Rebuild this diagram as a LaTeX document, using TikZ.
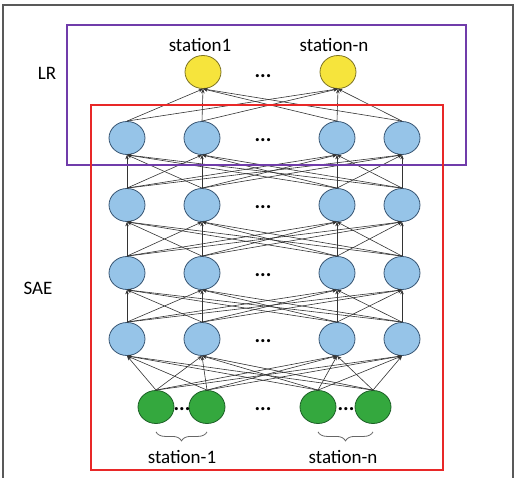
\documentclass[tikz,border=0pt]{standalone}
\usepackage{fontspec}
\setmainfont{Carlito}
\usetikzlibrary{shapes.geometric, arrows.meta, positioning, decorations.pathreplacing}

\definecolor{hidblue}{RGB}{150,196,232}
\definecolor{hidedge}{RGB}{55,85,115}
\definecolor{outyellow}{RGB}{246,228,60}
\definecolor{outedge}{RGB}{125,115,35}
\definecolor{ingreen}{RGB}{52,168,62}
\definecolor{inedge}{RGB}{28,95,38}
\definecolor{lrpurple}{RGB}{112,60,170}
\definecolor{saered}{RGB}{232,40,40}

\begin{document}
\begin{tikzpicture}[
    x=1pt, y=-1pt,
    font=\fontsize{19}{22}\selectfont,
    unit/.style={ellipse, thick, minimum width=36pt, minimum height=33pt, inner sep=0pt},
    hid/.style={unit, fill=hidblue, draw=hidedge},
    outunit/.style={unit, fill=outyellow, draw=outedge},
    inunit/.style={unit, fill=ingreen, draw=inedge},
    dots/.style={font=\bfseries\fontsize{21}{21}\selectfont, inner sep=0pt},
    arrow/.style={-{Stealth[length=4.5pt, width=3.5pt]}, draw=black!80, line width=0.6pt},
    brace/.style={decorate, decoration={brace, mirror, amplitude=9pt}, draw=black!60, thick}
]
\useasboundingbox (0,0) rectangle (517,478);

% outer frame
\draw[black!65, line width=1.6pt] (3,482) -- (3,5) -- (513,5) -- (513,482);

% output layer
\node[outunit] (y1) at (203,72) {};
\node[outunit] (y2) at (338,72) {};
\node[dots] (dy) at (263,76) {...};
\node (s1) at (200,45) {station1};
\node (sn) at (334,45) {station-n};

% hidden layers
\foreach \r/\y in {1/138, 2/205, 3/273, 4/339} {
    \foreach \c/\x in {1/127, 2/202, 3/337, 4/402}
        \node[hid] (h\r\c) at (\x,\y) {};
    \node[dots] (dh\r) at (263,\y+2) {...};
}

% input layer
\node[inunit] (g1) at (156,407) {};
\node[inunit] (g2) at (207,407) {};
\node[inunit] (g3) at (318,407) {};
\node[inunit] (g4) at (373,407) {};
\node[dots] (dg1) at (182,409) {...};
\node[dots] (dg) at (263,409) {...};
\node[dots] (dg2) at (346,409) {...};

% connections
\foreach \a in {1,...,4} {
    \foreach \b in {1,2}
        \draw[arrow] (h1\a.north) -- (y\b.south);
    \foreach \b in {1,...,4} {
        \draw[arrow] (g\a.north) -- (h4\b.south);
        \foreach \lo/\hi in {2/1, 3/2, 4/3}
            \draw[arrow] (h\lo\a.north) -- (h\hi\b.south);
    }
}

% braces
\draw[brace] ([yshift=-8pt]g1.south) -- ([yshift=-8pt]g2.south);
\draw[brace] ([yshift=-8pt]g3.south) -- ([yshift=-8pt]g4.south);
\node (st1) at (182,457) {station-1};
\node (stn) at (343,457) {station-n};

% groups
\draw[lrpurple, line width=1.2pt] (67,25) rectangle (466,165);
\draw[saered, line width=1.2pt] (91,105) rectangle (443,470);
\node (lr) at (47,73) {LR};
\node (sae) at (38,288) {SAE};

\end{tikzpicture}
\end{document}
